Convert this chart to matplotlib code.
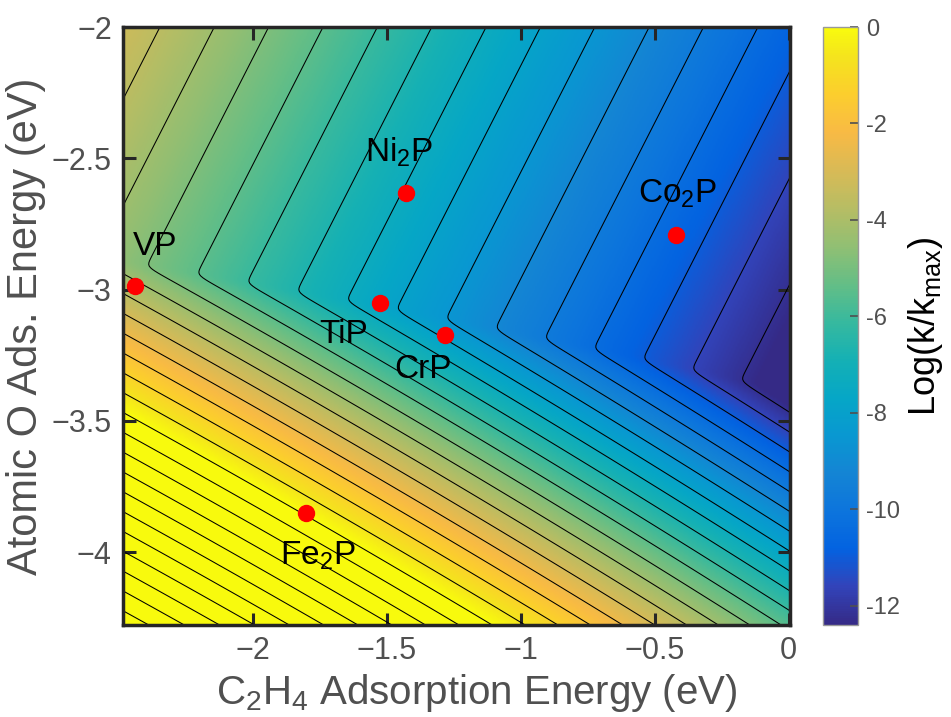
import numpy as np
import matplotlib
matplotlib.use('Agg')
import matplotlib.pyplot as plt
from matplotlib.colors import LinearSegmentedColormap

plt.rcParams['font.family'] = ['Liberation Sans', 'DejaVu Sans']
plt.rcParams['mathtext.fontset'] = 'custom'
plt.rcParams['mathtext.rm'] = 'Liberation Sans'
plt.rcParams['mathtext.it'] = 'Liberation Sans:italic'

# catalysts: (C2H4 adsorption energy, atomic O adsorption energy) in eV
names = ['VP', 'Ni$_\\mathregular{2}$P', 'TiP', 'CrP', 'Co$_\\mathregular{2}$P', 'Fe$_\\mathregular{2}$P']
e_c2h4 = [-2.440, -1.429, -1.526, -1.284, -0.422, -1.802]
e_o = [-2.987, -2.632, -3.051, -3.173, -2.792, -3.851]

# volcano surface: two planes, log(k/kmax) = soft max of them
upper_plane = [-7.71, -3.006, 1.503]            # const, d/dx, d/dy
lower_plane = [-40.18, -5.251, -8.074, -0.141]  # const, d/dx, d/dy, d2/dx2
contour_base = -3.661
contour_step = 0.61

cbar_ticks = [0, -2, -4, -6, -8, -10, -12]

# MATLAB parula (subsampled)
parula = [[0.2081, 0.1663, 0.5292], [0.1959, 0.2645, 0.7279], [0.0117, 0.3875, 0.8820],
          [0.0498, 0.4586, 0.8641], [0.0793, 0.5200, 0.8312], [0.0343, 0.5966, 0.8199],
          [0.0228, 0.6535, 0.7768], [0.0843, 0.6928, 0.7062], [0.2178, 0.7250, 0.6193],
          [0.3953, 0.7459, 0.5244], [0.5709, 0.7485, 0.4494], [0.7184, 0.7411, 0.3905],
          [0.8507, 0.7299, 0.3360], [0.9739, 0.7314, 0.2666], [0.9880, 0.8066, 0.1794],
          [0.9589, 0.8949, 0.1132], [0.9763, 0.9831, 0.0538]]
pos = [i * 4 / 63 for i in range(16)] + [1.0]
cmap = LinearSegmentedColormap.from_list('parula', list(zip(pos, parula)))

xg = np.linspace(-2.5, 0.02, 400)
yg = np.linspace(-4.3, -1.98, 360)
X, Y = np.meshgrid(xg, yg)
fu = upper_plane[0] + upper_plane[1] * X + upper_plane[2] * Y
fl = lower_plane[0] + lower_plane[1] * X + lower_plane[2] * Y + lower_plane[3] * X ** 2
s = 0.15
Z = s * np.logaddexp(fu / s * np.log(10), fl / s * np.log(10)) / np.log(10)

fig = plt.figure(figsize=(9.51, 7.17), dpi=100)
ax = fig.add_axes([0.1293, 0.1283, 0.7014, 0.834])
cax = fig.add_axes([0.8654, 0.1283, 0.0368, 0.834])

img = ax.imshow(Z, extent=(xg[0], xg[-1], yg[0], yg[-1]), origin='lower', aspect='auto',
                cmap=cmap, vmin=-12.4, vmax=0, interpolation='bilinear')
levels = contour_base + contour_step * np.arange(-25, 25)
ax.contour(X, Y, Z, levels=levels, colors='k', linewidths=0.75, linestyles='solid')

ax.plot(e_c2h4, e_o, 'o', color='red', markersize=11.5, zorder=5)

label_pos = [(-2.366, -2.869), (-1.455, -2.514), (-1.660, -3.204),
             (-1.366, -3.337), (-0.414, -2.670), (-1.757, -4.046)]
for name, (lx, ly) in zip(names, label_pos):
    ax.text(lx, ly, name, fontsize=24, color='black', ha='center', va='baseline', zorder=6)

ax.set_xlim(-2.485, 0.005)
ax.set_ylim(-4.278, -2.0)
ax.set_xticks([-2, -1.5, -1, -0.5, 0])
ax.set_xticklabels(['\u22122', '\u22121.5', '\u22121', '\u22120.5', '0'])
ax.set_yticks([-4, -3.5, -3, -2.5, -2])
ax.set_yticklabels(['\u22124', '\u22123.5', '\u22123', '\u22122.5', '\u22122'])
ax.tick_params(direction='in', length=9, width=2.2, top=True, right=True,
               labelsize=22, labelcolor='#505050', color='#262626', pad=8)
for sp in ax.spines.values():
    sp.set_linewidth(2.5)
    sp.set_color('#262626')

ax.set_xlabel('C$_\\mathregular{2}$H$_\\mathregular{4}$ Adsorption Energy (eV)', fontsize=29, color='#505050')
ax.xaxis.set_label_coords(0.53, -0.078)
ax.set_ylabel('Atomic O Ads. Energy (eV)', fontsize=30, color='#505050', labelpad=4)

cb = fig.colorbar(img, cax=cax)
cb.set_ticks(cbar_ticks)
cb.set_ticklabels([str(t) for t in cbar_ticks])
cax.tick_params(direction='in', length=6, width=1.2, labelsize=17, labelcolor='#505050',
                color='#505050', pad=6)
cb.outline.set_edgecolor('#999999')
cb.outline.set_linewidth(1.0)
cb.set_label('Log(k/k$_\\mathregular{max}$)', fontsize=26, color='black', labelpad=4)

fig.savefig('out.png', dpi=100)
